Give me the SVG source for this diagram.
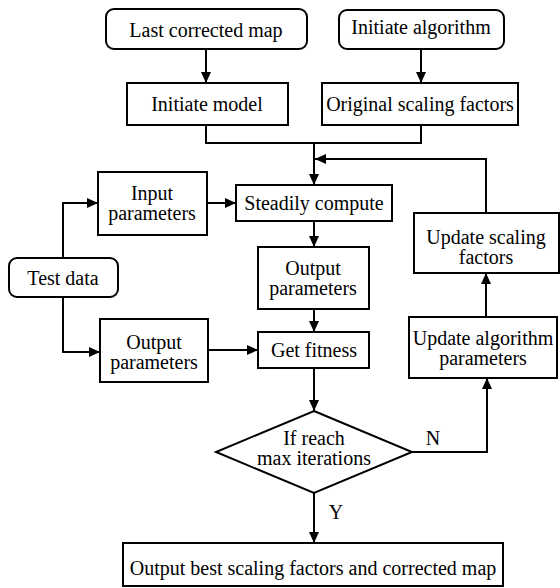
<svg xmlns="http://www.w3.org/2000/svg" width="560" height="588" viewBox="0 0 560 588">
<style>
.box{fill:#fff;stroke:#000;stroke-width:2}
.ln{fill:none;stroke:#000;stroke-width:2}
text{font-family:"Liberation Serif","Times New Roman",serif;font-size:20px;fill:#000;text-anchor:middle}
</style>
<defs>
<marker id="ah" markerUnits="userSpaceOnUse" markerWidth="12" markerHeight="10" refX="11" refY="5" orient="auto">
<path d="M0,0 L11,5 L0,10 Z" fill="#000"/>
</marker>
</defs>
<rect width="560" height="588" fill="#fff"/>
<g id="connectors">
<path class="ln" d="M206,49 V83" marker-end="url(#ah)"/>
<path class="ln" d="M421,49 V83" marker-end="url(#ah)"/>
<path class="ln" d="M206,125 V143 H421 V125"/>
<path class="ln" d="M314,143 V185" marker-end="url(#ah)"/>
<path class="ln" d="M486,213 V159 H315" marker-end="url(#ah)"/>
<path class="ln" d="M207,203 H236" marker-end="url(#ah)"/>
<path class="ln" d="M63,258 V203 H98" marker-end="url(#ah)"/>
<path class="ln" d="M63,297 V352 H100" marker-end="url(#ah)"/>
<path class="ln" d="M208,350 H258" marker-end="url(#ah)"/>
<path class="ln" d="M314,221 V247" marker-end="url(#ah)"/>
<path class="ln" d="M314,309 V332" marker-end="url(#ah)"/>
<path class="ln" d="M314,368 V411" marker-end="url(#ah)"/>
<path class="ln" d="M412,452 H487 V378" marker-end="url(#ah)"/>
<path class="ln" d="M486,317 V273" marker-end="url(#ah)"/>
<path class="ln" d="M314,493 V543" marker-end="url(#ah)"/>
<text x="433" y="445">N</text>
<text x="336" y="519">Y</text>
</g>
<g id="last-map"><rect class="box" x="106" y="9" width="201" height="40" rx="8"/><text x="206" y="37">Last corrected map</text></g>
<g id="init-alg"><rect class="box" x="339" y="10" width="165" height="39" rx="8"/><text x="421" y="34">Initiate algorithm</text></g>
<g id="init-model"><rect class="box" x="127" y="83" width="161" height="42"/><text x="207" y="111">Initiate model</text></g>
<g id="orig-scale"><rect class="box" x="322" y="83" width="196" height="42"/><text x="420" y="111">Original scaling factors</text></g>
<g id="input-params"><rect class="box" x="98" y="172" width="109" height="63"/><text x="152" y="200">Input</text><text x="152" y="220">parameters</text></g>
<g id="steady"><rect class="box" x="236" y="185" width="156" height="36"/><text x="314" y="210">Steadily compute</text></g>
<g id="test-data"><rect class="box" x="9" y="258" width="109" height="39" rx="8"/><text x="63" y="285">Test data</text></g>
<g id="out-params-mid"><rect class="box" x="258" y="247" width="111" height="62"/><text x="313" y="275">Output</text><text x="313" y="295">parameters</text></g>
<g id="out-params-left"><rect class="box" x="100" y="319" width="108" height="63"/><text x="154" y="349">Output</text><text x="154" y="369">parameters</text></g>
<g id="fitness"><rect class="box" x="258" y="332" width="111" height="36"/><text x="314" y="357">Get fitness</text></g>
<g id="upd-scale"><rect class="box" x="414" y="213" width="145" height="60"/><text x="486" y="244">Update scaling</text><text x="486" y="264">factors</text></g>
<g id="upd-alg"><rect class="box" x="409" y="317" width="148" height="61"/><text x="483" y="345">Update algorithm</text><text x="483" y="365">parameters</text></g>
<g id="decision"><polygon class="box" points="314,411 412,452 314,493 216,452"/><text x="314" y="445">If reach</text><text x="314" y="465">max iterations</text></g>
<g id="final"><rect class="box" x="123" y="543" width="380" height="43"/><text x="313" y="575">Output best scaling factors and corrected map</text></g>
</svg>
